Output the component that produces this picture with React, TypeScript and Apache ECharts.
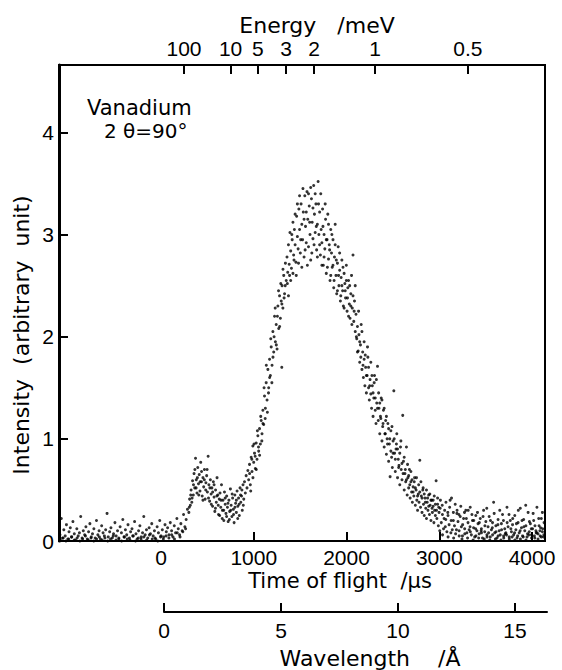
import React, { useEffect, useRef } from "react";
import * as echarts from "echarts";

// Time of flight (µs) vs intensity (arbitrary unit)
const baseline: number[][] = [
  [-1090,0.06],[-1075,0.22],[-1062,0.03],[-1048,0.11],[-1033,0.05],[-1020,0.16],[-1005,0.02],[-992,0.09],[-978,0.13],[-963,0.04],[-950,0.19],[-935,0.07],[-922,0.01],[-908,0.12],[-893,0.05],[-880,0.08],[-866,0.24],[-851,0.03],[-838,0.1],[-823,0.06],[-810,0.14],[-795,0.02],[-781,0.09],[-767,0.17],[-752,0.04],[-739,0.07],[-724,0.12],[-710,0.03],[-696,0.2],[-681,0.06],[-668,0.1],[-653,0.02],[-640,0.15],[-625,0.08],[-611,0.05],[-597,0.11],[-582,0.27],[-569,0.04],[-554,0.09],[-540,0.13],[-526,0.03],[-512,0.07],[-497,0.18],[-484,0.05],[-469,0.1],[-455,0.02],[-441,0.14],[-427,0.08],[-412,0.21],[-399,0.04],[-384,0.11],[-370,0.06],[-356,0.16],[-341,0.03],[-328,0.09],[-313,0.12],[-299,0.05],[-285,0.19],[-270,0.07],[-257,0.02],[-242,0.1],[-228,0.15],[-214,0.04],[-199,0.08],[-186,0.24],[-171,0.06],[-157,0.11],[-143,0.03],[-128,0.13],[-114,0.07],[-100,0.17],[-85,0.05],[-71,0.1],[-57,0.02],[-42,0.14],[-28,0.08],[-14,0.2],[0,0.05],[14,0.11],[28,0.04],[43,0.16],[57,0.09],[71,0.13],[86,0.06],[100,0.18],[114,0.1],[129,0.04],[143,0.15],[157,0.08],[171,0.22],[186,0.12],[200,0.06],[214,0.17],[228,0.1],[243,0.26],[257,0.14],[271,0.21],[285,0.31]
];

const lowBand: number[][] = [
  [-1085,0.01],[-1055,0.03],[-1025,0.0],[-995,0.02],[-965,0.04],[-935,0.01],[-905,0.03],[-875,0.0],[-845,0.02],[-815,0.05],[-785,0.01],[-755,0.03],[-725,0.0],[-695,0.02],[-665,0.04],[-635,0.01],[-605,0.03],[-575,0.0],[-545,0.02],[-515,0.05],[-485,0.01],[-455,0.03],[-425,0.0],[-395,0.04],[-365,0.02],[-335,0.01],[-305,0.05],[-275,0.0],[-245,0.03],[-215,0.02],[-185,0.04],[-155,0.01],[-125,0.06],[-95,0.02],[-65,0.03],[-35,0.0],[-5,0.04],[25,0.02],[55,0.05],[85,0.03],[115,0.06],[145,0.02],[175,0.08],[205,0.04],[235,0.09],[265,0.12],
  [3005,0.1],[3035,0.06],[3065,0.14],[3095,0.04],[3125,0.08],[3155,0.03],[3185,0.11],[3215,0.05],[3245,0.02],[3275,0.07],[3305,0.03],[3335,0.09],[3365,0.01],[3395,0.05],[3425,0.03],[3455,0.08],[3485,0.02],[3515,0.04],[3545,0.01],[3575,0.06],[3605,0.02],[3635,0.05],[3665,0.01],[3695,0.03],[3725,0.06],[3755,0.02],[3785,0.04],[3815,0.01],[3845,0.05],[3875,0.02],[3905,0.04],[3935,0.01],[3965,0.06],[3995,0.03],[4025,0.05],[4045,0.08],[4065,0.02],[4085,0.1],[4100,0.04],[4115,0.12],[4128,0.06]
];

const bump: number[][] = [
  [300,0.28],[308,0.41],[316,0.35],[324,0.5],[332,0.38],[340,0.59],[348,0.45],[356,0.66],[364,0.52],[372,0.81],[380,0.6],[388,0.47],[396,0.72],[404,0.56],[412,0.65],[420,0.49],[428,0.77],[436,0.58],[444,0.44],[452,0.62],[460,0.53],[468,0.7],[476,0.41],[484,0.57],[492,0.64],[500,0.48],[508,0.83],[516,0.55],[524,0.39],[532,0.6],[540,0.46],[548,0.52],[556,0.34],[564,0.58],[572,0.43],[580,0.29],[588,0.5],[596,0.38],[604,0.62],[612,0.45],[620,0.26],[628,0.41],[636,0.47],[644,0.33],[652,0.55],[660,0.22],[668,0.4],[676,0.3],[684,0.48],[692,0.36],[700,0.27],[708,0.44],[716,0.33],[724,0.19],[732,0.4],[740,0.29],[748,0.51],[756,0.35],[764,0.24],[772,0.42],[780,0.31],[788,0.18],[796,0.45],[804,0.37],[812,0.28],[820,0.49],[828,0.34],[836,0.42],[844,0.25],[852,0.52],[860,0.38],[868,0.44],[876,0.3],[884,0.55],[892,0.41]
];

const bumpExtra: number[][] = [
  [305,0.33],[320,0.45],[335,0.42],[350,0.55],[365,0.7],[378,0.52],[392,0.62],[407,0.45],[422,0.58],[437,0.68],[452,0.4],[467,0.6],[482,0.5],[497,0.7],[512,0.42],[527,0.52],[542,0.36],[557,0.48],[572,0.55],[587,0.32],[602,0.44],[617,0.35],[632,0.25],[647,0.4],[662,0.3],[677,0.2],[692,0.42],[707,0.24],[722,0.37],[737,0.21],[752,0.3],[767,0.46],[782,0.26],[797,0.33],[812,0.4],[827,0.22],[842,0.36],[857,0.45],[872,0.5],[887,0.35]
];

const rise: number[][] = [
  [900,0.58],[909,0.47],[918,0.64],[927,0.52],[936,0.69],[945,0.6],[954,0.75],[963,0.55],[972,0.82],[981,0.68],[990,0.93],[999,0.77],[1008,0.86],[1017,0.71],[1026,0.96],[1035,0.8],[1044,1.03],[1053,0.88],[1062,1.1],[1071,0.95],[1080,1.18],[1089,1.05],[1098,1.28],[1107,1.14],[1116,1.42],[1125,1.3],[1134,1.55],[1143,1.38],[1152,1.68],[1161,1.5],[1170,1.78],[1179,1.62],[1188,1.9],[1197,1.72],[1206,2.05],[1215,1.85],[1224,2.2],[1233,1.95],[1242,2.12],[1251,1.88],[1260,2.3],[1269,2.08],[1278,2.4],[1287,2.18],[1296,2.35],[1302,1.7],[1305,2.5],[1314,2.28],[1323,2.6],[1332,2.42],[1341,2.72],[1350,2.55]
];

const riseExtra: number[][] = [
  [955,0.66],[967,0.49],[979,0.8],[991,0.62],[1003,0.95],[1015,0.83],[1027,0.7],[1039,1.08],[1051,0.92],[1063,0.84],[1075,1.22],[1087,0.98],[1099,1.15],[1111,1.5],[1123,1.2],[1135,1.72],[1147,1.26],[1159,1.45],[1171,1.6],[1183,1.98],[1195,1.55],[1207,1.8],[1219,2.0],[1231,2.28],[1243,1.92],[1255,2.2],[1267,2.45],[1279,2.1],[1291,2.52],[1303,2.32],[1315,2.66],[1327,2.38],[1339,2.5]
];

const peak: number[][] = [
  [1358,2.78],[1366,2.63],[1374,2.9],[1382,2.71],[1390,3.02],[1398,2.84],[1406,2.67],[1414,2.95],[1422,3.12],[1430,2.8],[1438,3.05],[1446,2.9],[1454,2.73],[1462,3.18],[1470,2.98],[1478,2.86],[1486,3.25],[1494,3.05],[1502,2.82],[1510,3.3],[1518,3.1],[1526,2.95],[1534,3.22],[1542,2.78],[1550,3.38],[1558,3.08],[1566,2.92],[1574,3.42],[1582,3.15],[1590,2.88],[1598,3.28],[1606,3.0],[1614,2.75],[1622,3.35],[1630,3.12],[1638,2.96],[1646,3.48],[1654,3.2],[1662,3.02],[1670,3.3],[1678,2.85],[1686,3.1],[1694,3.52],[1702,3.0],[1710,3.22],[1718,2.8],[1726,3.05],[1734,2.92],[1742,3.25],[1750,2.7],[1758,3.0],[1766,2.86],[1774,3.15],[1782,2.62],[1790,2.95],[1798,3.2],[1806,2.76],[1814,2.9],[1822,2.55],[1830,3.05],[1838,2.82],[1846,2.68],[1854,2.95],[1862,2.48],[1870,2.78],[1878,3.1],[1886,2.6],[1894,2.42],[1902,2.72],[1910,2.88],[1918,2.5],[1926,2.65],[1934,2.35],[1942,2.58],[1950,2.75],[1958,2.45],[1966,2.3],[1974,2.62],[1982,2.52],[1990,2.38],[1998,2.7],[2006,2.25],[2014,2.48],[2022,2.55],[2030,2.32],[2038,2.18],[2046,2.42],[2054,2.6],[2062,2.28],[2070,2.8],[2078,2.15],[2086,2.35],[2094,2.05]
];

const peakExtra: number[][] = [
  [1362,2.52],[1374,2.4],[1386,2.6],[1398,2.55],[1410,3.0],[1422,2.62],[1434,2.75],[1446,3.2],[1458,2.6],[1470,3.3],[1482,2.72],[1494,3.38],[1506,2.95],[1518,2.68],[1530,3.45],[1542,3.15],[1554,2.85],[1566,3.22],[1578,2.7],[1590,3.4],[1602,3.12],[1614,3.46],[1626,2.82],[1638,3.26],[1650,2.9],[1662,3.4],[1674,3.08],[1686,2.78],[1698,3.3],[1710,2.9],[1722,3.4],[1734,2.7],[1746,3.08],[1758,2.78],[1770,3.3],[1782,2.95],[1794,2.68],[1806,3.1],[1818,2.85],[1830,2.6],[1842,3.0],[1854,2.7],[1866,2.55],[1878,2.9],[1890,2.75],[1902,2.45],[1914,2.6],[1926,2.82],[1938,2.4],[1950,2.5],[1962,2.68],[1974,2.28],[1986,2.45],[1998,2.55],[2010,2.38],[2022,2.2],[2034,2.5],[2046,2.3],[2058,2.12],[2070,2.4],[2082,2.25],[2094,2.5]
];

const tail: number[][] = [
  [2102,2.22],[2110,1.98],[2118,2.1],[2126,1.86],[2134,2.02],[2142,1.75],[2150,1.92],[2158,2.12],[2166,1.68],[2174,1.85],[2182,1.6],[2190,1.78],[2198,1.52],[2206,1.7],[2214,1.45],[2222,1.62],[2230,1.8],[2238,1.5],[2246,1.38],[2254,1.58],[2262,1.44],[2270,1.3],[2278,1.52],[2286,1.22],[2294,1.4],[2302,1.62],[2310,1.28],[2318,1.15],[2326,1.35],[2334,1.71],[2342,1.18],[2350,1.3],[2358,1.05],[2366,1.22],[2374,1.4],[2382,0.98],[2390,1.12],[2398,1.28],[2406,0.92],[2414,1.05],[2422,1.18],[2430,0.85],[2438,1.0],[2446,1.15],[2454,0.78],[2462,0.95],[2470,0.63],[2478,1.08],[2486,0.82],[2494,0.72],[2502,0.98],[2510,1.47],[2518,0.86],[2526,0.68],[2534,0.9],[2542,1.05],[2550,0.62],[2558,0.8],[2566,0.74],[2574,0.55],[2582,0.92],[2590,0.7],[2598,0.6],[2606,1.23],[2614,0.78],[2622,0.5],[2630,0.66],[2638,0.58],[2646,0.92],[2654,0.45],[2662,0.62],[2670,0.52],[2678,0.7],[2686,0.42],[2694,0.58],[2702,0.48],[2710,0.38],[2718,0.53],[2726,0.44],[2734,0.62],[2742,0.35],[2750,0.5],[2758,0.4],[2766,0.3],[2774,0.46],[2782,0.38],[2790,0.79],[2798,0.33],[2806,0.44],[2814,0.28],[2822,0.5],[2830,0.36],[2838,0.25],[2846,0.42],[2854,0.32],[2862,0.22],[2870,0.38],[2878,0.3],[2886,0.45],[2894,0.26],[2902,0.35],[2910,0.2],[2918,0.4],[2926,0.28],[2934,0.34],[2942,0.18],[2950,0.3],[2958,0.25],[2966,0.59],[2974,0.22],[2982,0.36],[2990,0.15],[2998,0.28]
];

const tailExtra: number[][] = [
  [2106,2.0],[2118,1.85],[2130,2.25],[2142,1.95],[2154,1.8],[2166,2.05],[2178,1.72],[2190,1.95],[2202,1.82],[2214,1.62],[2226,1.9],[2238,1.7],[2250,1.52],[2262,1.75],[2274,1.62],[2286,1.45],[2298,1.55],[2310,1.4],[2322,1.58],[2334,1.3],[2346,1.45],[2358,1.35],[2370,1.2],[2382,1.38],[2394,1.15],[2406,1.3],[2418,1.05],[2430,1.22],[2442,0.95],[2454,1.1],[2466,1.0],[2478,0.88],[2490,1.12],[2502,0.86],[2514,1.0],[2526,0.8],[2538,0.95],[2550,0.9],[2562,0.72],[2574,0.86],[2586,0.98],[2598,0.76],[2610,0.66],[2622,0.82],[2634,0.7],[2646,0.6],[2658,0.75],[2670,0.64],[2682,0.55],[2694,0.68],[2706,0.6],[2718,0.48],[2730,0.58],[2742,0.52],[2754,0.62],[2766,0.44],[2778,0.55],[2790,0.48],[2802,0.58],[2814,0.42],[2826,0.52],[2838,0.46],[2850,0.38],[2862,0.5],[2874,0.42],[2886,0.34],[2898,0.46],[2910,0.4],[2922,0.32],[2934,0.4],[2946,0.44],[2958,0.36],[2970,0.3],[2982,0.42],[2994,0.33]
];

const farTail: number[][] = [
  [3010,0.32],[3022,0.18],[3034,0.26],[3046,0.12],[3058,0.3],[3070,0.21],[3082,0.09],[3094,0.25],[3106,0.16],[3117,0.4],[3128,0.2],[3140,0.11],[3152,0.28],[3164,0.15],[3176,0.07],[3190,0.27],[3202,0.19],[3214,0.1],[3226,0.24],[3238,0.14],[3250,0.05],[3262,0.22],[3274,0.12],[3286,0.3],[3298,0.08],[3310,0.18],[3322,0.11],[3334,0.33],[3346,0.06],[3358,0.2],[3370,0.13],[3382,0.04],[3394,0.25],[3406,0.1],[3418,0.17],[3430,0.07],[3442,0.22],[3454,0.12],[3466,0.03],[3478,0.3],[3490,0.09],[3502,0.19],[3514,0.06],[3526,0.14],[3538,0.24],[3550,0.04],[3562,0.11],[3574,0.18],[3586,0.38],[3598,0.08],[3610,0.15],[3622,0.03],[3634,0.21],[3646,0.1],[3658,0.06],[3670,0.17],[3682,0.26],[3694,0.05],[3706,0.12],[3718,0.08],[3730,0.33],[3742,0.14],[3754,0.04],[3766,0.2],[3778,0.09],[3790,0.16],[3802,0.06],[3814,0.25],[3826,0.11],[3838,0.03],[3850,0.18],[3862,0.08],[3874,0.32],[3886,0.13],[3898,0.05],[3910,0.21],[3922,0.1],[3934,0.15],[3946,0.04],[3958,0.28],[3970,0.09],[3982,0.17],[3994,0.06],[4006,0.12],[4018,0.2],[4030,0.03],[4042,0.1],[4053,0.33],[4064,0.07],[4076,0.15],[4088,0.05],[4100,0.22],[4112,0.09],[4124,0.04]
];

const farTailExtra: number[][] = [
  [3012,0.4],[3032,0.35],[3052,0.22],[3072,0.38],[3092,0.28],[3112,0.33],[3132,0.42],[3152,0.2],[3172,0.36],[3192,0.3],[3212,0.26],[3232,0.34],[3252,0.16],[3272,0.28],[3292,0.22],[3312,0.3],[3332,0.14],[3352,0.26],[3372,0.2],[3392,0.12],[3412,0.28],[3432,0.18],[3452,0.1],[3472,0.24],[3492,0.15],[3512,0.32],[3532,0.08],[3552,0.2],[3572,0.13],[3592,0.27],[3612,0.09],[3632,0.16],[3652,0.3],[3672,0.11],[3692,0.2],[3712,0.07],[3732,0.18],[3752,0.26],[3772,0.12],[3792,0.22],[3812,0.08],[3832,0.17],[3852,0.3],[3872,0.1],[3892,0.2],[3912,0.14],[3932,0.35],[3952,0.07],[3972,0.19],[3992,0.12],[4012,0.27],[4032,0.15],[4052,0.08],[4072,0.22],[4092,0.13],[4112,0.28],[4130,0.18]
];

const intensityTicks = [0, 1, 2, 3, 4];
const tofTicks = [0, 1000, 2000, 3000, 4000];
const energyLabels = ["100", "10", "5", "3", "2", "1", "0.5"];
const energyTickTof = [248, 750, 1044, 1348, 1650, 2309, 3309];
const wavelengthTicks = [0, 5, 10, 15];

const DIGIT_FONT = "Liberation Sans";
const TEXT_FONT = "DejaVu Sans";

export default function App() {
  const ref = useRef<HTMLDivElement>(null);
  useEffect(() => {
    const chart = echarts.init(ref.current!, null, { renderer: "svg" });
    const points = [
      ...baseline, ...lowBand, ...bump, ...bumpExtra, ...rise, ...riseExtra,
      ...peak, ...peakExtra, ...tail, ...tailExtra, ...farTail, ...farTailExtra,
    ];
    const labelStyle = { color: "#000", fontFamily: DIGIT_FONT, fontSize: 21 };
    chart.setOption({
      animation: false,
      backgroundColor: "#fff",
      grid: [
        { left: 59, right: 17, top: 65, bottom: 129, show: true, borderColor: "#000", borderWidth: 2, backgroundColor: "transparent" },
        { left: 164, right: 15, top: 611, height: 1, show: false },
      ],
      xAxis: [
        {
          gridIndex: 0, type: "value", position: "bottom", min: -1100, max: 4140,
          splitLine: { show: false },
          axisLine: { show: true, onZero: false, lineStyle: { color: "#000", width: 2 } },
          axisTick: { show: true, inside: true, length: 9, lineStyle: { color: "#000", width: 2 }, customValues: tofTicks.slice(1) },
          axisLabel: { ...labelStyle, margin: 6, customValues: tofTicks, formatter: (v: number) => String(v) },
        },
        {
          gridIndex: 0, type: "value", position: "top", min: -1100, max: 4140,
          splitLine: { show: false },
          axisLine: { show: true, onZero: false, lineStyle: { color: "#000", width: 2 } },
          axisTick: { show: true, inside: true, length: 9, lineStyle: { color: "#000", width: 2 }, customValues: energyTickTof },
          axisLabel: {
            ...labelStyle, margin: 6, customValues: energyTickTof,
            formatter: (v: number) => {
              const i = energyTickTof.findIndex((t) => Math.abs(t - v) < 1);
              return i >= 0 ? energyLabels[i] : "";
            },
          },
        },
        {
          gridIndex: 1, type: "value", position: "bottom", min: 0, max: 16.37, interval: 5,
          splitLine: { show: false },
          axisLine: { show: true, onZero: false, lineStyle: { color: "#000", width: 2 } },
          axisTick: { show: true, inside: true, length: 9, lineStyle: { color: "#000", width: 2 }, customValues: wavelengthTicks },
          axisLabel: { ...labelStyle, margin: 8, customValues: wavelengthTicks, formatter: (v: number) => String(v) },
        },
      ],
      yAxis: [
        {
          gridIndex: 0, type: "value", min: 0, max: 4.66, position: "left",
          splitLine: { show: false },
          axisLine: { show: true, onZero: false, lineStyle: { color: "#000", width: 3 } },
          axisTick: { show: true, inside: true, length: 9, lineStyle: { color: "#000", width: 2 }, customValues: intensityTicks },
          axisLabel: { ...labelStyle, margin: 5, customValues: intensityTicks, formatter: (v: number) => String(v) },
        },
        { gridIndex: 1, type: "value", show: false, min: 0, max: 1 },
      ],
      graphic: [
        { type: "text", x: 317, y: 25, style: { text: "Energy   /meV", font: `22px '${TEXT_FONT}'`, fill: "#000", align: "center", verticalAlign: "middle" } },
        { type: "text", x: 340, y: 581, style: { text: "Time of flight  /µs", font: `21px '${TEXT_FONT}'`, fill: "#000", align: "center", verticalAlign: "middle" } },
        { type: "text", x: 370, y: 658, style: { text: "Wavelength    /Å", font: `22px '${TEXT_FONT}'`, fill: "#000", align: "center", verticalAlign: "middle" } },
        { type: "text", x: 21, y: 335, rotation: Math.PI / 2, style: { text: "Intensity  (arbitrary  unit)", font: `22px '${TEXT_FONT}'`, fill: "#000", align: "center", verticalAlign: "middle" } },
        { type: "text", x: 87, y: 108, style: { text: "Vanadium", font: `21px '${TEXT_FONT}'`, fill: "#000", align: "left", verticalAlign: "middle" } },
        { type: "text", x: 104, y: 131, style: { text: "2 θ=90°", font: `20px '${TEXT_FONT}'`, fill: "#000", align: "left", verticalAlign: "middle" } },
      ],
      series: [
        {
          type: "scatter", xAxisIndex: 0, yAxisIndex: 0, data: points,
          symbol: "circle", symbolSize: 3, itemStyle: { color: "#000" }, silent: true,
        },
      ],
    });
    return () => chart.dispose();
  }, []);
  return <div ref={ref} style={{ position: "fixed", left: 0, top: 0, width: 562, height: 670 }} />;
}
